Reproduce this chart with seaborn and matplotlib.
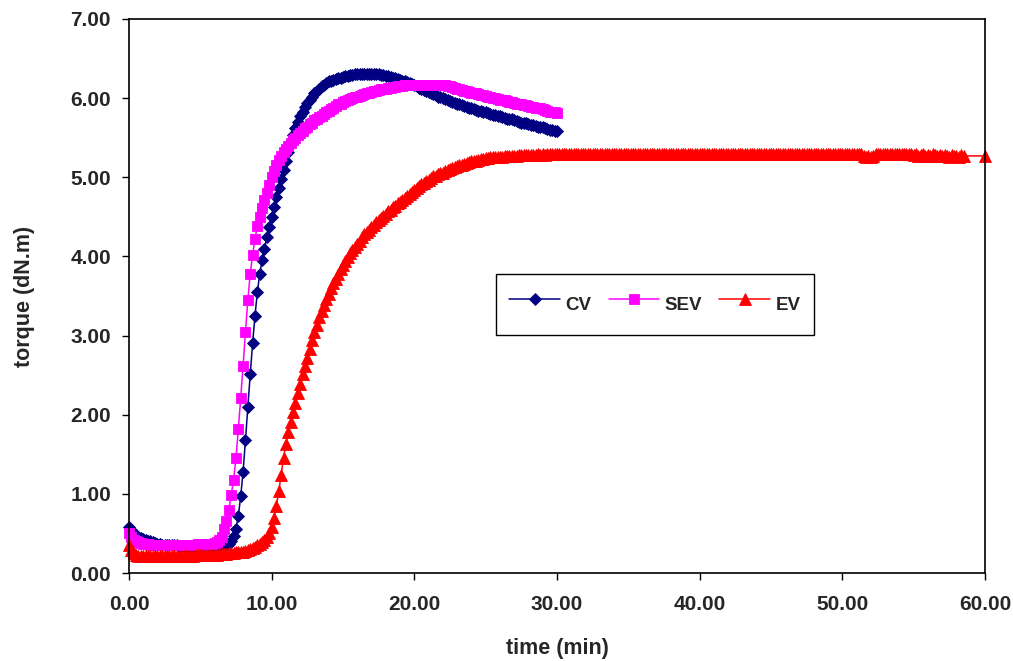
import numpy as np
import pandas as pd
import matplotlib
matplotlib.use('Agg')
import matplotlib.pyplot as plt
import seaborn as sns
from matplotlib.ticker import FormatStrFormatter, MultipleLocator

# --- data: torque (dN.m) read every 10 s (1/6 min), one row per minute ---
cv_torque = [
    0.58, 0.54, 0.50, 0.48, 0.46, 0.44,
    0.43, 0.42, 0.41, 0.40, 0.39, 0.38,
    0.37, 0.37, 0.36, 0.36, 0.36, 0.35,
    0.35, 0.35, 0.35, 0.34, 0.34, 0.34,
    0.34, 0.34, 0.34, 0.34, 0.34, 0.34,
    0.34, 0.34, 0.34, 0.34, 0.34, 0.34,
    0.34, 0.34, 0.34, 0.34, 0.35, 0.35,
    0.37, 0.41, 0.47, 0.56, 0.72, 0.97,
    1.28, 1.68, 2.10, 2.51, 2.90, 3.25,
    3.55, 3.78, 3.95, 4.10, 4.24, 4.37,
    4.50, 4.63, 4.75, 4.87, 4.98, 5.09,
    5.20, 5.32, 5.43, 5.53, 5.62, 5.70,
    5.77, 5.83, 5.89, 5.94, 5.98, 6.02,
    6.06, 6.09, 6.12, 6.15, 6.17, 6.19,
    6.21, 6.22, 6.23, 6.24, 6.25, 6.26,
    6.27, 6.28, 6.28, 6.29, 6.29, 6.30,
    6.30, 6.30, 6.31, 6.31, 6.31, 6.31,
    6.31, 6.31, 6.30, 6.30, 6.29, 6.29,
    6.28, 6.28, 6.27, 6.26, 6.25, 6.24,
    6.23, 6.22, 6.21, 6.20, 6.19, 6.18,
    6.16, 6.15, 6.13, 6.12, 6.10, 6.09,
    6.08, 6.06, 6.05, 6.04, 6.02, 6.01,
    6.00, 5.99, 5.98, 5.96, 5.95, 5.94,
    5.93, 5.92, 5.91, 5.90, 5.89, 5.88,
    5.87, 5.86, 5.85, 5.84, 5.84, 5.83,
    5.82, 5.81, 5.80, 5.79, 5.79, 5.78,
    5.77, 5.76, 5.75, 5.74, 5.74, 5.73,
    5.72, 5.71, 5.70, 5.69, 5.69, 5.68,
    5.67, 5.66, 5.66, 5.65, 5.64, 5.64,
    5.63, 5.62, 5.61, 5.60, 5.60, 5.59,
    5.58,
]

sev_torque = [
    0.50, 0.45, 0.42, 0.40, 0.39, 0.38,
    0.37, 0.37, 0.37, 0.36, 0.36, 0.36,
    0.36, 0.36, 0.36, 0.36, 0.36, 0.36,
    0.36, 0.36, 0.36, 0.36, 0.36, 0.36,
    0.36, 0.36, 0.36, 0.36, 0.36, 0.37,
    0.37, 0.37, 0.37, 0.37, 0.37, 0.37,
    0.38, 0.39, 0.42, 0.46, 0.55, 0.66,
    0.80, 0.98, 1.18, 1.45, 1.82, 2.21,
    2.62, 3.05, 3.45, 3.78, 4.02, 4.22,
    4.38, 4.50, 4.61, 4.71, 4.80, 4.90,
    5.00, 5.08, 5.16, 5.22, 5.27, 5.32,
    5.36, 5.40, 5.43, 5.47, 5.50, 5.53,
    5.56, 5.59, 5.62, 5.64, 5.67, 5.69,
    5.72, 5.74, 5.76, 5.78, 5.80, 5.82,
    5.84, 5.86, 5.88, 5.90, 5.92, 5.93,
    5.95, 5.96, 5.98, 5.99, 6.00, 6.01,
    6.02, 6.03, 6.04, 6.05, 6.06, 6.07,
    6.08, 6.09, 6.09, 6.10, 6.11, 6.11,
    6.12, 6.13, 6.13, 6.14, 6.14, 6.15,
    6.15, 6.15, 6.16, 6.16, 6.16, 6.17,
    6.17, 6.17, 6.17, 6.17, 6.17, 6.17,
    6.17, 6.17, 6.17, 6.17, 6.16, 6.16,
    6.16, 6.16, 6.15, 6.15, 6.14, 6.13,
    6.12, 6.11, 6.10, 6.09, 6.09, 6.08,
    6.07, 6.06, 6.06, 6.05, 6.04, 6.04,
    6.03, 6.02, 6.01, 6.00, 6.00, 5.99,
    5.98, 5.97, 5.97, 5.96, 5.95, 5.95,
    5.94, 5.93, 5.93, 5.92, 5.91, 5.91,
    5.90, 5.89, 5.89, 5.88, 5.87, 5.87,
    5.86, 5.85, 5.84, 5.83, 5.83, 5.82,
    5.81,
]

ev_torque = [
    0.36, 0.29, 0.25, 0.23, 0.22, 0.22,
    0.22, 0.22, 0.22, 0.22, 0.22, 0.22,
    0.22, 0.22, 0.22, 0.22, 0.22, 0.22,
    0.22, 0.22, 0.22, 0.22, 0.22, 0.22,
    0.22, 0.22, 0.22, 0.22, 0.23, 0.23,
    0.23, 0.23, 0.23, 0.23, 0.23, 0.23,
    0.23, 0.23, 0.24, 0.24, 0.24, 0.24,
    0.25, 0.25, 0.25, 0.26, 0.26, 0.27,
    0.27, 0.28, 0.29, 0.30, 0.32, 0.33,
    0.35, 0.37, 0.39, 0.42, 0.46, 0.51,
    0.58, 0.69, 0.85, 1.03, 1.24, 1.45,
    1.63, 1.78, 1.91, 2.03, 2.15, 2.27,
    2.39, 2.51, 2.62, 2.72, 2.83, 2.94,
    3.04, 3.13, 3.23, 3.31, 3.39, 3.46,
    3.53, 3.60, 3.66, 3.72, 3.78, 3.84,
    3.89, 3.94, 3.99, 4.04, 4.08, 4.12,
    4.16, 4.20, 4.24, 4.28, 4.31, 4.34,
    4.37, 4.40, 4.43, 4.46, 4.48, 4.51,
    4.54, 4.57, 4.59, 4.62, 4.64, 4.67,
    4.69, 4.71, 4.74, 4.76, 4.79, 4.81,
    4.84, 4.86, 4.89, 4.91, 4.93, 4.95,
    4.97, 4.99, 5.01, 5.02, 5.04, 5.05,
    5.06, 5.08, 5.09, 5.10, 5.12, 5.13,
    5.14, 5.15, 5.16, 5.17, 5.18, 5.19,
    5.20, 5.21, 5.21, 5.22, 5.23, 5.23,
    5.24, 5.24, 5.25, 5.25, 5.26, 5.26,
    5.26, 5.26, 5.27, 5.27, 5.27, 5.27,
    5.27, 5.27, 5.28, 5.28, 5.28, 5.28,
    5.28, 5.28, 5.28, 5.28, 5.29, 5.28,
    5.29, 5.28, 5.29, 5.29, 5.29, 5.29,
    5.29, 5.30, 5.29, 5.29, 5.30, 5.29,
    5.30, 5.29, 5.30, 5.30, 5.29, 5.30,
    5.30, 5.30, 5.29, 5.30, 5.30, 5.30,
    5.30, 5.29, 5.30, 5.30, 5.30, 5.29,
    5.30, 5.30, 5.30, 5.29, 5.30, 5.30,
    5.29, 5.30, 5.30, 5.30, 5.29, 5.30,
    5.30, 5.29, 5.30, 5.30, 5.30, 5.30,
    5.29, 5.30, 5.30, 5.29, 5.30, 5.30,
    5.30, 5.30, 5.29, 5.30, 5.30, 5.29,
    5.30, 5.30, 5.30, 5.29, 5.30, 5.30,
    5.29, 5.30, 5.30, 5.30, 5.29, 5.30,
    5.30, 5.29, 5.30, 5.30, 5.30, 5.29,
    5.30, 5.30, 5.29, 5.30, 5.30, 5.30,
    5.29, 5.30, 5.30, 5.29, 5.30, 5.30,
    5.30, 5.29, 5.30, 5.30, 5.30, 5.29,
    5.30, 5.30, 5.29, 5.30, 5.30, 5.30,
    5.29, 5.30, 5.30, 5.30, 5.29, 5.30,
    5.30, 5.29, 5.30, 5.30, 5.29, 5.30,
    5.30, 5.30, 5.29, 5.30, 5.30, 5.29,
    5.30, 5.30, 5.29, 5.30, 5.30, 5.30,
    5.29, 5.30, 5.30, 5.29, 5.30, 5.30,
    5.30, 5.29, 5.29, 5.27, 5.26, 5.27,
    5.26, 5.27, 5.29, 5.30, 5.29, 5.30,
    5.30, 5.29, 5.30, 5.30, 5.29, 5.30,
    5.29, 5.30, 5.29, 5.29, 5.30, 5.29,
    5.28, 5.29, 5.27, 5.28, 5.29, 5.27,
    5.28, 5.27, 5.29, 5.28, 5.27, 5.28,
    5.27, 5.28, 5.27, 5.26, 5.28, 5.27,
    5.27, 5.26, 5.28, 5.27,
    5.27,
]

# sampling times (min): 10 s steps, EV has a last reading at 60 min
cv_time = np.arange(len(cv_torque)) / 6
sev_time = np.arange(len(sev_torque)) / 6
ev_time = np.append(np.arange(len(ev_torque) - 1) / 6, 60.0)

series = [
    ("CV", cv_time, cv_torque, "#000080", "D", 6.0),
    ("SEV", sev_time, sev_torque, "#FF00FF", "s", 7.2),
    ("EV", ev_time, ev_torque, "#FF0000", "^", 9.0),
]

sns.set_theme(style="white")
plt.rcParams['font.family'] = ['Liberation Sans', 'DejaVu Sans']
plt.rcParams['font.weight'] = 'bold'

fig = plt.figure(figsize=(10.13, 6.61), dpi=100)
ax = fig.add_axes([0.1273, 0.1331, 0.8450, 0.8382])

for nombre, t, v, color, marker, ms in series:
    df = pd.DataFrame({"time": t, "torque": v})
    sns.lineplot(data=df, x="time", y="torque", ax=ax, color=color,
                 marker=marker, markersize=ms, markeredgecolor=color,
                 markeredgewidth=0.6, linewidth=1.1, label=nombre,
                 clip_on=False, errorbar=None)

ax.set_xlim(0, 60)
ax.set_ylim(0, 7)
ax.xaxis.set_major_locator(MultipleLocator(10))
ax.yaxis.set_major_locator(MultipleLocator(1))
ax.xaxis.set_major_formatter(FormatStrFormatter('%.2f'))
ax.yaxis.set_major_formatter(FormatStrFormatter('%.2f'))

for s in ax.spines.values():
    s.set_visible(True)
    s.set_color('black')
    s.set_linewidth(1.2)

ax.tick_params(axis='x', which='major', direction='out', length=5, width=1,
               color='black', pad=11, labelsize=15, bottom=True)
ax.tick_params(axis='y', which='major', direction='out', length=5, width=1,
               color='black', pad=8, labelsize=15, left=True)
for lab in ax.get_xticklabels() + ax.get_yticklabels():
    lab.set_fontweight('bold')

ax.set_xlabel("time (min)", fontsize=15.5, fontweight='bold')
ax.set_ylabel("torque (dN.m)", fontsize=15.5, fontweight='bold')
ax.xaxis.set_label_coords(0.5, -0.118)
ax.yaxis.set_label_coords(-0.11, 0.5)

leg = ax.legend(loc='center', bbox_to_anchor=(0.6145, 0.4847), ncol=3,
                numpoints=1, frameon=True, fancybox=False, framealpha=1,
                edgecolor='black', borderpad=0.7, handlelength=2.7,
                handleheight=2.5, handletextpad=0.3, columnspacing=0.9,
                prop={'weight': 'bold', 'size': 13.5})
leg.get_frame().set_linewidth(1.0)

fig.savefig("out.png", dpi=100)
